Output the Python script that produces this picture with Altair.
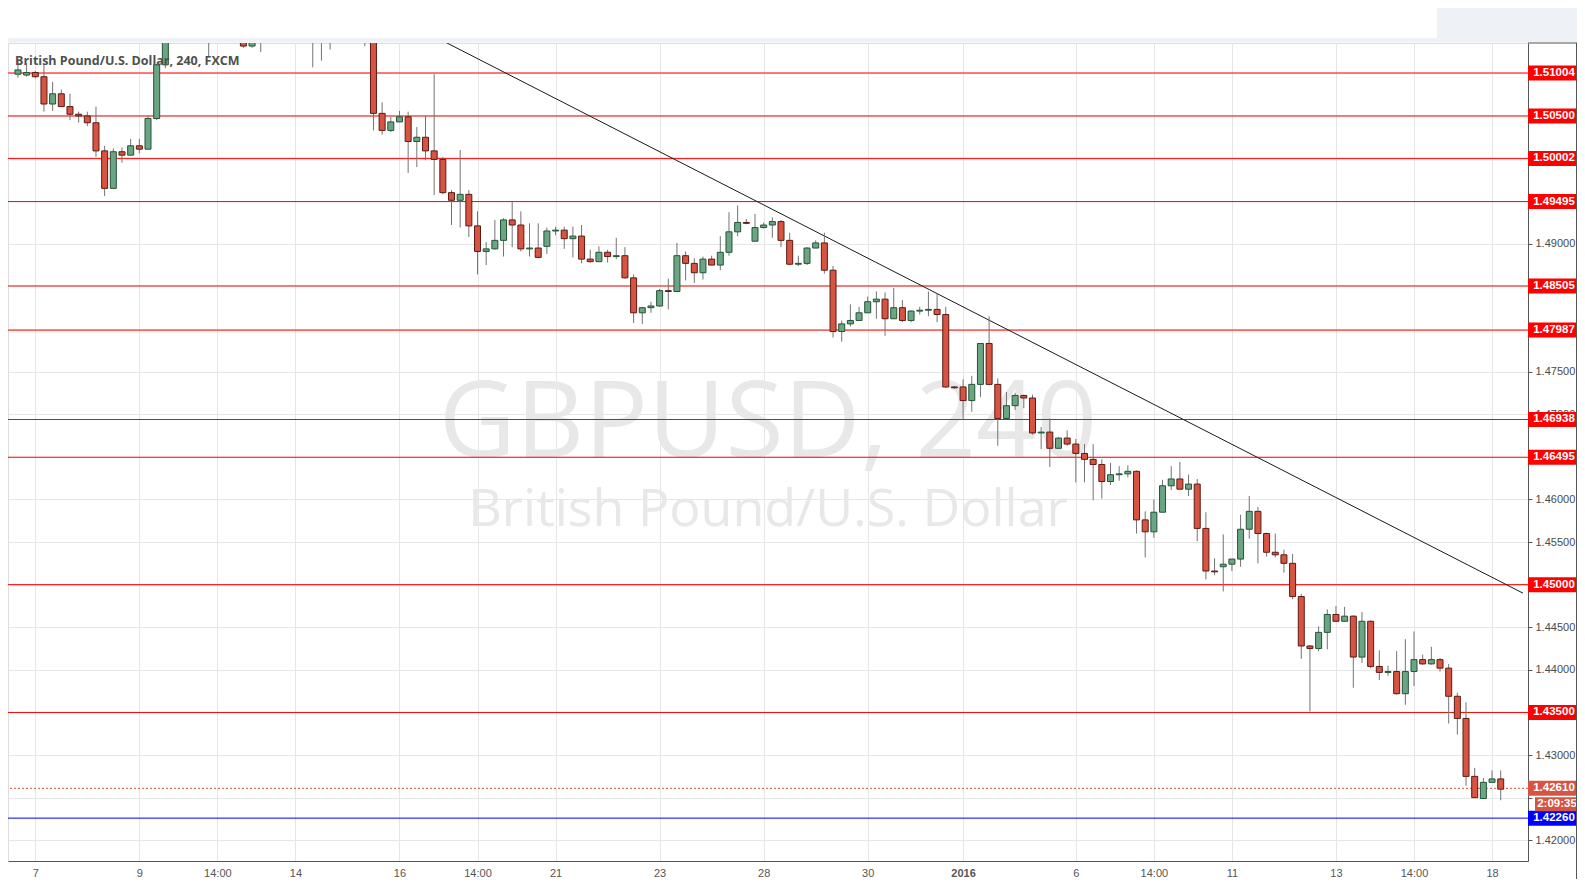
import altair as alt
import pandas as pd

# ---------------- data (4h GBPUSD candles, index = bar number) ----------------
opens = [1.5099, 1.5098, 1.5101, 1.5096, 1.5064, 1.5076, 1.5061, 1.5052, 1.5050, 1.5042,
         1.5009, 1.4965, 1.5008, 1.5004, 1.5015, 1.5011, 1.5047, 1.5110, 1.5165, 1.5172,
         1.5155, 1.5168, 1.5182, 1.5150, 1.5165, 1.5152, 1.5160, 1.5132, 1.5158, 1.5170,
         1.5185, 1.5178, 1.5190, 1.5205, 1.5180, 1.5150, 1.5165, 1.5160, 1.5178, 1.5172,
         1.5168, 1.5160, 1.5053, 1.5033, 1.5043, 1.5049, 1.5020, 1.5025, 1.5009, 1.4999,
         1.4960, 1.4951, 1.4958, 1.4921, 1.4891, 1.4894, 1.4904, 1.4928, 1.4922, 1.4894,
         1.4895, 1.4897, 1.4915, 1.4916, 1.4906, 1.4909, 1.4882, 1.4879, 1.4890, 1.4885,
         1.4886, 1.4860, 1.4819, 1.4825, 1.4827, 1.4845, 1.4844, 1.4886, 1.4877, 1.4866,
         1.4882, 1.4875, 1.4890, 1.4914, 1.4925, 1.4903, 1.4919, 1.4922, 1.4926, 1.4904,
         1.4876, 1.4877, 1.4895, 1.4901, 1.4869, 1.4797, 1.4806, 1.4810, 1.4819, 1.4832,
         1.4835, 1.4812, 1.4825, 1.4810, 1.4821, 1.4822, 1.4823, 1.4817, 1.4732, 1.4732,
         1.4716, 1.4735, 1.4783, 1.4735, 1.4695, 1.4710, 1.4722, 1.4719, 1.4678, 1.4679,
         1.4660, 1.4672, 1.4665, 1.4654, 1.4647, 1.4641, 1.4621, 1.4629, 1.4630, 1.4633,
         1.4576, 1.4562, 1.4585, 1.4616, 1.4624, 1.4612, 1.4618, 1.4566, 1.4516, 1.4521,
         1.4524, 1.4530, 1.4565, 1.4586, 1.4560, 1.4538, 1.4535, 1.4525, 1.4486, 1.4428,
         1.4425, 1.4444, 1.4465, 1.4457, 1.4463, 1.4415, 1.4457, 1.4404, 1.4397, 1.4398,
         1.4372, 1.4398, 1.4412, 1.4407, 1.4412, 1.4402, 1.4369, 1.4343, 1.4275, 1.4249,
         1.4268, 1.4272]
highs = [1.5116, 1.5112, 1.5103, 1.5112, 1.5090, 1.5081, 1.5076, 1.5055, 1.5055, 1.5061,
         1.5015, 1.5012, 1.5013, 1.5023, 1.5023, 1.5050, 1.5111, 1.5180, 1.5188, 1.5190,
         1.5178, 1.5195, 1.5190, 1.5172, 1.5180, 1.5168, 1.5170, 1.5165, 1.5180, 1.5195,
         1.5205, 1.5198, 1.5215, 1.5212, 1.5190, 1.5175, 1.5180, 1.5185, 1.5195, 1.5190,
         1.5182, 1.5170, 1.5066, 1.5049, 1.5056, 1.5055, 1.5037, 1.5050, 1.5099, 1.5002,
         1.4963, 1.5010, 1.4963, 1.4938, 1.4902, 1.4928, 1.4930, 1.4950, 1.4938, 1.4924,
         1.4924, 1.4919, 1.4920, 1.4920, 1.4920, 1.4922, 1.4893, 1.4897, 1.4893, 1.4907,
         1.4896, 1.4864, 1.4826, 1.4832, 1.4847, 1.4859, 1.4901, 1.4891, 1.4883, 1.4885,
         1.4886, 1.4909, 1.4937, 1.4945, 1.4929, 1.4935, 1.4925, 1.4931, 1.4928, 1.4913,
         1.4886, 1.4896, 1.4904, 1.4913, 1.4874, 1.4810, 1.4829, 1.4826, 1.4838, 1.4844,
         1.4843, 1.4848, 1.4834, 1.4822, 1.4826, 1.4844, 1.4841, 1.4826, 1.4733, 1.4741,
         1.4745, 1.4783, 1.4815, 1.4742, 1.4726, 1.4725, 1.4723, 1.4723, 1.4685, 1.4695,
         1.4673, 1.4681, 1.4671, 1.4665, 1.4665, 1.4647, 1.4643, 1.4639, 1.4640, 1.4634,
         1.4586, 1.4600, 1.4623, 1.4639, 1.4644, 1.4629, 1.4624, 1.4585, 1.4531, 1.4559,
         1.4530, 1.4582, 1.4604, 1.4591, 1.4561, 1.4560, 1.4541, 1.4536, 1.4489, 1.4429,
         1.4451, 1.4471, 1.4475, 1.4474, 1.4464, 1.4468, 1.4458, 1.4423, 1.4405, 1.4422,
         1.4436, 1.4445, 1.4418, 1.4427, 1.4414, 1.4407, 1.4373, 1.4362, 1.4285, 1.4273,
         1.4282, 1.4282]
lows = [1.5095, 1.5096, 1.5094, 1.5055, 1.5056, 1.5061, 1.5045, 1.5042, 1.5038, 1.5002,
        1.4956, 1.4965, 1.4995, 1.5004, 1.5006, 1.5011, 1.5045, 1.5106, 1.5152, 1.5148,
        1.5142, 1.5160, 1.5119, 1.5140, 1.5145, 1.5141, 1.5130, 1.5130, 1.5125, 1.5160,
        1.5170, 1.5165, 1.5180, 1.5170, 1.5107, 1.5115, 1.5128, 1.5150, 1.5165, 1.5155,
        1.5132, 1.5033, 1.5028, 1.5031, 1.5043, 1.4983, 1.4990, 1.4998, 1.4957, 1.4958,
        1.4922, 1.4919, 1.4908, 1.4864, 1.4875, 1.4893, 1.4885, 1.4896, 1.4891, 1.4885,
        1.4883, 1.4888, 1.4910, 1.4894, 1.4884, 1.4877, 1.4878, 1.4879, 1.4878, 1.4882,
        1.4859, 1.4807, 1.4806, 1.4819, 1.4826, 1.4823, 1.4843, 1.4857, 1.4854, 1.4858,
        1.4875, 1.4869, 1.4886, 1.4909, 1.4923, 1.4903, 1.4918, 1.4907, 1.4896, 1.4875,
        1.4874, 1.4875, 1.4895, 1.4865, 1.4790, 1.4785, 1.4803, 1.4810, 1.4819, 1.4812,
        1.4792, 1.4812, 1.4808, 1.4808, 1.4817, 1.4815, 1.4808, 1.4731, 1.4730, 1.4694,
        1.4703, 1.4720, 1.4734, 1.4663, 1.4694, 1.4705, 1.4707, 1.4676, 1.4659, 1.4638,
        1.4660, 1.4663, 1.4620, 1.4620, 1.4599, 1.4601, 1.4617, 1.4622, 1.4626, 1.4560,
        1.4532, 1.4555, 1.4585, 1.4611, 1.4612, 1.4604, 1.4551, 1.4506, 1.4511, 1.4492,
        1.4516, 1.4521, 1.4554, 1.4525, 1.4533, 1.4532, 1.4514, 1.4483, 1.4413, 1.4351,
        1.4422, 1.4424, 1.4457, 1.4457, 1.4379, 1.4408, 1.4402, 1.4388, 1.4393, 1.4371,
        1.4359, 1.4381, 1.4406, 1.4406, 1.4398, 1.4337, 1.4324, 1.4264, 1.4250, 1.4249,
        1.4268, 1.4247]
closes = [1.5104, 1.5101, 1.5096, 1.5064, 1.5076, 1.5061, 1.5052, 1.5050, 1.5042, 1.5009,
          1.4965, 1.5008, 1.5004, 1.5015, 1.5011, 1.5047, 1.5110, 1.5165, 1.5172, 1.5155,
          1.5168, 1.5182, 1.5150, 1.5165, 1.5152, 1.5160, 1.5132, 1.5158, 1.5170, 1.5185,
          1.5178, 1.5190, 1.5205, 1.5180, 1.5150, 1.5165, 1.5160, 1.5178, 1.5172, 1.5168,
          1.5160, 1.5053, 1.5033, 1.5043, 1.5049, 1.5020, 1.5025, 1.5009, 1.4999, 1.4960,
          1.4951, 1.4958, 1.4921, 1.4891, 1.4894, 1.4904, 1.4928, 1.4922, 1.4894, 1.4895,
          1.4884, 1.4915, 1.4916, 1.4906, 1.4909, 1.4882, 1.4879, 1.4890, 1.4885, 1.4886,
          1.4860, 1.4819, 1.4825, 1.4827, 1.4845, 1.4844, 1.4886, 1.4877, 1.4866, 1.4882,
          1.4875, 1.4890, 1.4914, 1.4925, 1.4924, 1.4919, 1.4922, 1.4926, 1.4904, 1.4876,
          1.4877, 1.4895, 1.4901, 1.4869, 1.4797, 1.4806, 1.4810, 1.4819, 1.4832, 1.4835,
          1.4812, 1.4825, 1.4810, 1.4821, 1.4822, 1.4823, 1.4817, 1.4732, 1.4731, 1.4716,
          1.4735, 1.4783, 1.4735, 1.4695, 1.4710, 1.4722, 1.4719, 1.4678, 1.4679, 1.4660,
          1.4672, 1.4665, 1.4654, 1.4647, 1.4641, 1.4621, 1.4629, 1.4630, 1.4633, 1.4576,
          1.4562, 1.4585, 1.4616, 1.4624, 1.4612, 1.4618, 1.4566, 1.4516, 1.4515, 1.4524,
          1.4530, 1.4565, 1.4586, 1.4560, 1.4538, 1.4535, 1.4525, 1.4486, 1.4428, 1.4425,
          1.4444, 1.4465, 1.4457, 1.4463, 1.4415, 1.4457, 1.4404, 1.4397, 1.4398, 1.4372,
          1.4398, 1.4412, 1.4407, 1.4412, 1.4402, 1.4369, 1.4343, 1.4275, 1.4250, 1.4268,
          1.4272, 1.4260]

tick_index = [2, 14, 23, 32, 44, 53, 62, 74, 86, 98, 109, 122, 131, 140, 152, 161, 170]
tick_labels = ["7", "9", "14:00", "14", "16", "14:00", "21", "23", "28", "30", "2016",
               "6", "14:00", "11", "13", "14:00", "18"]
y_tick_values = [1.420, 1.425, 1.430, 1.435, 1.440, 1.445, 1.450, 1.455, 1.460, 1.465,
                 1.470, 1.475, 1.480, 1.485, 1.490, 1.495, 1.500, 1.505, 1.510]

level_prices = [1.51004, 1.50500, 1.50002, 1.49495, 1.48505, 1.47987, 1.46938, 1.46495,
                1.45000, 1.43500]
support_price = 1.42260
last_price = 1.42610
countdown_text = "2:09:35"
trend_index = [49.4, 173.57]
trend_price = [1.5136, 1.4490]

symbol_title = "British Pound/U.S. Dollar, 240, FXCM"
watermark_big = "GBPUSD, 240"
watermark_small = "British Pound/U.S. Dollar"

# ---------------- tables ----------------
candles = pd.DataFrame({"i": list(range(len(opens))), "open": opens, "high": highs,
                        "low": lows, "close": closes})
candles["dir"] = ["up" if c >= o else "down" for o, c in zip(opens, closes)]

levels = pd.DataFrame({"price": level_prices})
box_rows = pd.DataFrame({
    "price": level_prices + [support_price, last_price],
    "label": [f"{p:.5f}" for p in level_prices + [support_price, last_price]],
    "col": ["#ff0000"] * len(level_prices) + ["#0000ff", "#d75442"],
})
trend = pd.DataFrame({"i": trend_index, "price": trend_price})
one = pd.DataFrame({"k": [0]})

W, H = 1520, 818
x_scale = alt.Scale(domain=[-0.57, 173.57], nice=False, zero=False)
y_scale = alt.Scale(domain=[1.41757, 1.51356], nice=False, zero=False)

label_expr = "[" + ",".join(f"'{t}'" for t in tick_labels) + "][indexof([" + \
    ",".join(str(v) for v in tick_index) + "], datum.value)]"

x_axis = alt.Axis(values=tick_index, labelExpr=label_expr, grid=True, gridColor="#e6e6e6",
                  ticks=False, domainColor="#555555", labelColor="#555555", labelFontSize=11,
                  labelFont="Liberation Sans", labelPadding=6, labelAngle=0,
                  labelFontWeight={"condition": {"test": "datum.value == 109", "value": "bold"},
                                   "value": "normal"},
                  title=None)
y_axis = alt.Axis(orient="right", values=y_tick_values, format=".5f", grid=True,
                  labelExpr="abs(datum.value - 1.425) < 0.000001 ? '' : format(datum.value, '.5f')",
                  gridColor="#e6e6e6", tickColor="#555555", tickSize=4,
                  domainColor="#555555", labelColor="#4a4a4a", labelFontSize=11,
                  labelFont="Liberation Sans", labelPadding=3, title=None)


def xq(field):
    return alt.X(f"{field}:Q", scale=x_scale, axis=x_axis, title=None)


def yq(field):
    return alt.Y(f"{field}:Q", scale=y_scale, axis=y_axis, title=None)


dir_scale_fill = alt.Scale(domain=["up", "down"], range=["#6ba583", "#d75442"])
dir_scale_stroke = alt.Scale(domain=["up", "down"], range=["#225437", "#5b1a13"])

# ---------------- layers ----------------
grey = "#eef1f5"
top_right_grey = alt.Chart(one).mark_rect(color=grey, clip=False).encode(
    x=alt.value(1429), x2=alt.value(1569), y=alt.value(-35), y2=alt.value(-0.5))
top_strip_grey = alt.Chart(one).mark_rect(color=grey, clip=False).encode(
    x=alt.value(0), x2=alt.value(1429), y=alt.value(-5), y2=alt.value(-0.5))
panel_top = alt.Chart(one).mark_rule(color="#555555", strokeWidth=1, clip=False).encode(
    x=alt.value(1520), x2=alt.value(1569), y=alt.value(0))
panel_right = alt.Chart(one).mark_rule(color="#555555", strokeWidth=1, clip=False).encode(
    x=alt.value(1568.5), y=alt.value(0), y2=alt.value(836))

wm1 = alt.Chart(pd.DataFrame({"t": [watermark_big]})).mark_text(
    font="Open Sans", fontSize=106, color="#e8e8e8", align="center", baseline="alphabetic"
).encode(x=alt.value(760), y=alt.value(414), text="t:N")
wm2 = alt.Chart(pd.DataFrame({"t": [watermark_small]})).mark_text(
    font="Open Sans", fontSize=52, color="#e8e8e8", align="center", baseline="alphabetic"
).encode(x=alt.value(760), y=alt.value(483), text="t:N")

level_rules = alt.Chart(levels).mark_rule(color="#ff0000", strokeWidth=1).encode(y=yq("price"))
support_rule = alt.Chart(pd.DataFrame({"price": [support_price]})).mark_rule(
    color="#0000ff", strokeWidth=1).encode(y=yq("price"))
last_rule = alt.Chart(pd.DataFrame({"price": [last_price]})).mark_rule(
    color="#d75442", strokeWidth=1, strokeDash=[2, 2]).encode(y=yq("price"))

trend_line = alt.Chart(trend).mark_line(color="#1a1a1a", strokeWidth=1, clip=True).encode(
    x=xq("i"), y=yq("price"))

wicks = alt.Chart(candles).mark_rule(color="#737375", strokeWidth=1, clip=True).encode(
    x=xq("i"), y=yq("low"), y2="high:Q")
bodies = alt.Chart(candles).mark_bar(size=6, strokeWidth=1, clip=True).encode(
    x=xq("i"), y=yq("open"), y2="close:Q",
    fill=alt.Fill("dir:N", scale=dir_scale_fill, legend=None),
    stroke=alt.Stroke("dir:N", scale=dir_scale_stroke, legend=None))

box_shape = "M-1,-0.3L1,-0.3L1,0.3L-1,0.3Z"
boxes = alt.Chart(box_rows).mark_point(shape=box_shape, size=2500, filled=True, opacity=1,
                                       strokeWidth=0, clip=False).encode(
    x=alt.value(1545), y=yq("price"), color=alt.Color("col:N", scale=None))
box_text = alt.Chart(box_rows).mark_text(color="white", fontWeight="bold", fontSize=11.5,
                                         font="Liberation Sans", align="center",
                                         baseline="middle", clip=False).encode(
    x=alt.value(1546), y=yq("price"), text="label:N")

cd = pd.DataFrame({"price": [last_price], "label": [countdown_text]})
cd_box = alt.Chart(cd).mark_point(shape="M-0.84,-0.28L0.84,-0.28L0.84,0.28L-0.84,0.28Z",
                                  size=2500, filled=True, opacity=1, strokeWidth=0,
                                  color="#d75442", yOffset=16, clip=False).encode(
    x=alt.value(1548), y=yq("price"))
cd_text = alt.Chart(cd).mark_text(color="white", fontWeight="bold", fontSize=11.5,
                                  font="Liberation Sans", align="center", baseline="middle",
                                  yOffset=16, clip=False).encode(
    x=alt.value(1549), y=yq("price"), text="label:N")

title_text = alt.Chart(pd.DataFrame({"t": [symbol_title]})).mark_text(
    font="Open Sans", fontSize=12.5, fontWeight="bold", color="#4f4f4f", align="left",
    baseline="middle").encode(x=alt.value(7), y=alt.value(18), text="t:N")

chart = alt.layer(
    top_right_grey, top_strip_grey, wm1, wm2, level_rules, support_rule, last_rule,
    trend_line, wicks, bodies, boxes, box_text, cd_box, cd_text, title_text,
    panel_top, panel_right,
).properties(
    width=W, height=H,
    autosize=alt.AutoSizeParams(type="none"),
    padding={"left": 0, "top": 35, "right": 49, "bottom": 18},
).configure_view(stroke="#555555", strokeWidth=1, fill="white").configure(
    background="white")

chart.save("out.html", embed_options={"renderer": "svg", "actions": False})
